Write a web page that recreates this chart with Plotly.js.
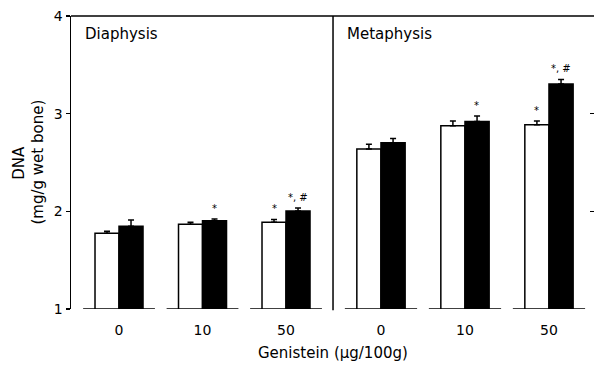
<!DOCTYPE html>
<html>
<head>
<meta charset="utf-8">
<script src="https://cdn.plot.ly/plotly-3.0.1.min.js"></script>
<style>html,body{margin:0;padding:0;background:#fff;}#chart{width:594px;height:365px;}</style>
</head>
<body>
<div id="chart"></div>
<script>
// ---- data ----
var doses = ["0", "10", "50"];
var diaWhite = [1.775, 1.867, 1.887];
var diaWhiteErr = [0.02, 0.02, 0.03];
var diaBlack = [1.846, 1.904, 2.003];
var diaBlackErr = [0.065, 0.017, 0.03];
var metWhite = [2.638, 2.876, 2.886];
var metWhiteErr = [0.048, 0.05, 0.04];
var metBlack = [2.702, 2.921, 3.303];
var metBlackErr = [0.045, 0.054, 0.048];
var diaWhiteMark = ["", "", "*"];
var diaBlackMark = ["", "*", "*, #"];
var metWhiteMark = ["", "", "*"];
var metBlackMark = ["", "*", "*, #"];
var yTicks = [1, 2, 3, 4];

var FONT = "DejaVu Sans, sans-serif";
var idx = doses.map(function (d, i) { return i; });

function barTrace(vals, errs, fill, xa) {
  return {
    type: "bar", x: idx, y: vals, xaxis: xa, yaxis: xa === "x" ? "y" : "y2",
    marker: { color: fill, line: { color: "#000", width: 1.5 } },
    error_y: { type: "data", symmetric: false, array: errs,
      arrayminus: errs.map(function () { return 0; }),
      color: "#000", thickness: 1.5, width: 3 },
    showlegend: false, hoverinfo: "none"
  };
}

var traces = [
  barTrace(diaWhite, diaWhiteErr, "#fff", "x"),
  barTrace(diaBlack, diaBlackErr, "#000", "x"),
  barTrace(metWhite, metWhiteErr, "#fff", "x2"),
  barTrace(metBlack, metBlackErr, "#000", "x2")
];

var annotations = [];
function marks(labels, vals, errs, xa, shift) {
  labels.forEach(function (t, i) {
    if (!t) return;
    annotations.push({ xref: xa, yref: xa === "x" ? "y" : "y2", x: i, y: vals[i] + errs[i],
      text: t, showarrow: false, xshift: shift, yshift: 3, yanchor: "bottom",
      font: { family: FONT, size: 10, color: "#000" } });
  });
}
marks(diaWhiteMark, diaWhite, diaWhiteErr, "x", -12);
marks(diaBlackMark, diaBlack, diaBlackErr, "x", 12);
marks(metWhiteMark, metWhite, metWhiteErr, "x2", -12);
marks(metBlackMark, metBlack, metBlackErr, "x2", 12);

var split = 0.501;
annotations.push(
  { xref: "paper", yref: "paper", x: 0.023, y: 0.9386, xanchor: "left", yanchor: "middle",
    text: "Diaphysis", showarrow: false, font: { family: FONT, size: 15, color: "#000" } },
  { xref: "paper", yref: "paper", x: 0.524, y: 0.9386, xanchor: "left", yanchor: "middle",
    text: "Metaphysis", showarrow: false, font: { family: FONT, size: 15, color: "#000" } },
  { xref: "paper", yref: "paper", x: -0.101, y: 0.50, xanchor: "center", yanchor: "middle",
    textangle: -90, text: "DNA", showarrow: false, font: { family: FONT, size: 15, color: "#000" } },
  { xref: "paper", yref: "paper", x: -0.065, y: 0.50, xanchor: "center", yanchor: "middle",
    textangle: -90, text: "(mg/g wet bone)", showarrow: false, font: { family: FONT, size: 15, color: "#000" } },
  { xref: "paper", yref: "paper", x: 0.501, y: -0.150, xanchor: "center", yanchor: "middle",
    text: "Genistein (μg/100g)", showarrow: false, font: { family: FONT, size: 15, color: "#000" } }
);

var shapes = [];
idx.forEach(function (i) {
  ["x", "x2"].forEach(function (xa) {
    shapes.push({ type: "line", xref: xa, yref: "y", x0: i - 0.43, x1: i + 0.43, y0: 1, y1: 1,
      line: { color: "#000", width: 1.5 } });
  });
});
shapes.push(
  { type: "line", xref: "paper", yref: "paper", x0: 0, x1: 1, y0: 1, y1: 1, line: { color: "#000", width: 1.5 } },
  { type: "line", xref: "paper", yref: "paper", x0: split, x1: split, y0: -0.004, y1: 1, line: { color: "#000", width: 1.5 } }
);

function xAxis(domain, range, anchor) {
  return { domain: domain, range: range, anchor: anchor, tickmode: "array", tickvals: idx, ticktext: doses,
    ticks: "outside", ticklen: 8, tickcolor: "rgba(0,0,0,0)", showline: false, showgrid: false, zeroline: false,
    tickfont: { family: FONT, size: 14, color: "#000" }, fixedrange: true };
}

var layout = {
  width: 594, height: 365,
  margin: { l: 71, r: 0, t: 16, b: 56 },
  paper_bgcolor: "#fff", plot_bgcolor: "rgba(0,0,0,0)",
  barmode: "group", bargap: 0.425, bargroupgap: 0,
  xaxis: xAxis([0, split], [-0.575, 2.563], "y"),
  xaxis2: xAxis([split, 1], [-0.571, 2.536], "y2"),
  yaxis: { range: [1, 4], anchor: "x", tickmode: "array", tickvals: yTicks, ticks: "outside", ticklen: 4,
    tickwidth: 1.5, tickcolor: "#000", showline: true, linecolor: "#000", linewidth: 1.5,
    showgrid: false, zeroline: false, tickfont: { family: FONT, size: 14, color: "#000" } },
  yaxis2: { range: [1, 4], anchor: "x2", side: "right", tickmode: "array", tickvals: [2, 3], ticks: "inside",
    ticklen: 4, tickwidth: 1.5, tickcolor: "#000", showline: false, showticklabels: false,
    showgrid: false, zeroline: false },
  annotations: annotations,
  shapes: shapes
};

Plotly.newPlot("chart", traces, layout, { displayModeBar: false, staticPlot: true });
</script>
</body>
</html>
